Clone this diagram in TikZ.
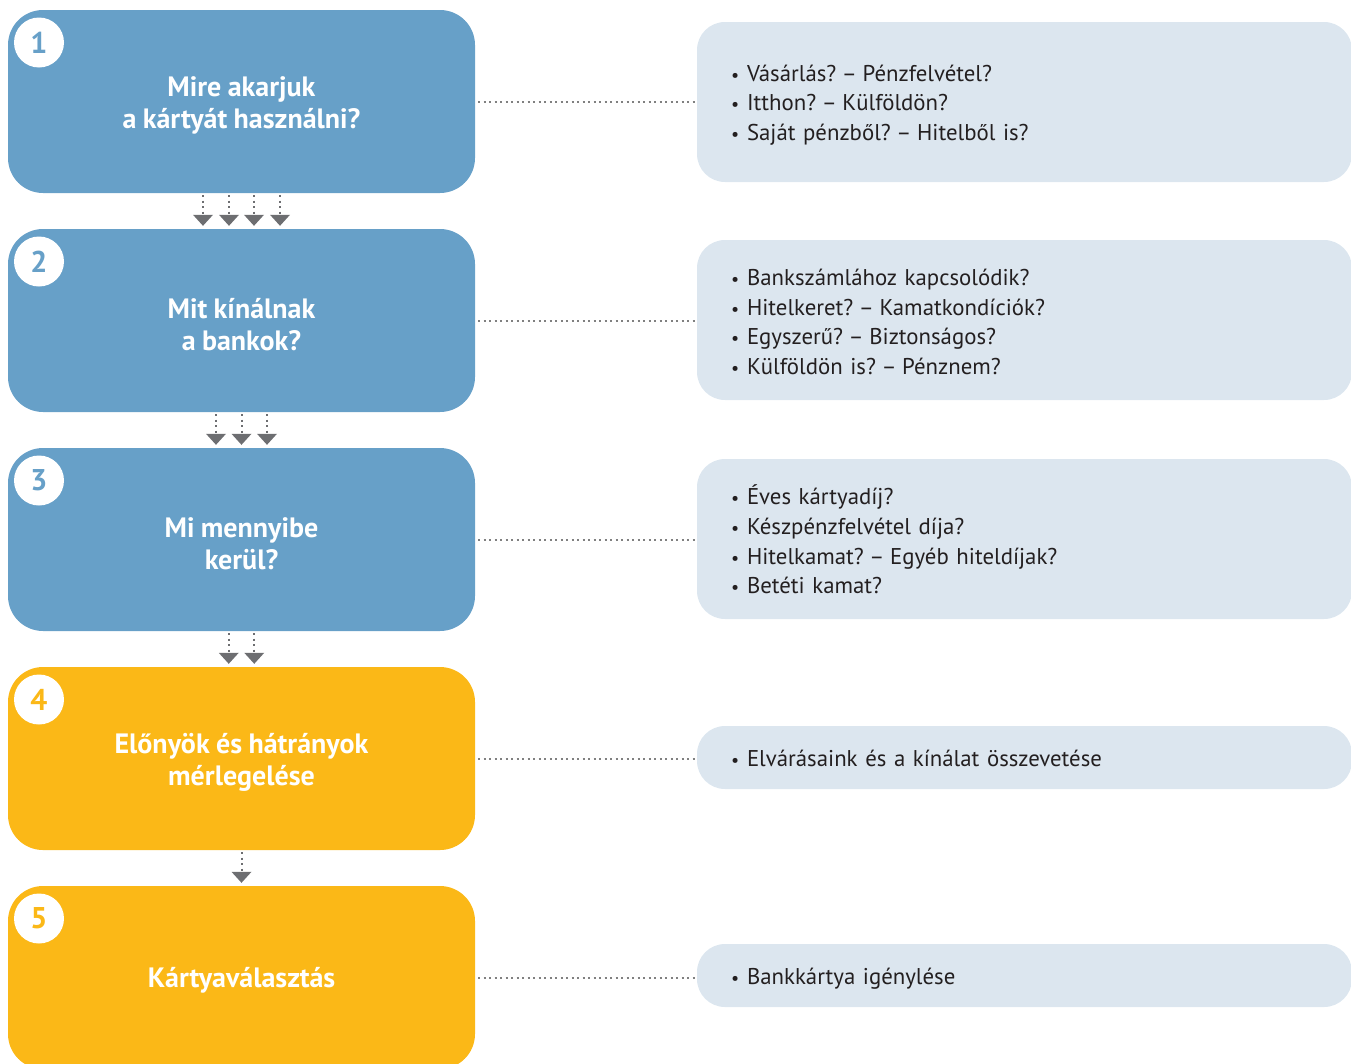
\documentclass[tikz,border=0pt]{standalone}
\usepackage{fontspec}
\setmainfont[WordSpace=0.9]{PT Sans}
\usetikzlibrary{arrows.meta}
\definecolor{stepblue}{HTML}{67A0C8}
\definecolor{steporange}{HTML}{FBB817}
\definecolor{infobg}{HTML}{DCE6EF}
\definecolor{dotgray}{HTML}{808080}
\definecolor{arrowgray}{HTML}{6D6E71}
\definecolor{textblack}{HTML}{231F20}
\tikzset{
 stepbox/.style={rectangle, rounded corners=35pt, minimum width=467pt, minimum height=183pt, inner sep=0pt},
 bluebox/.style={stepbox, fill=stepblue},
 orangebox/.style={stepbox, fill=steporange},
 steptext/.style={text=white, font=\fontsize{28}{32}\selectfont\bfseries, align=center, inner sep=0pt},
 numcircle/.style={circle, fill=white, minimum size=50pt, inner sep=0pt, font=\fontsize{30}{30}\selectfont\bfseries},
 infobox/.style={rectangle, rounded corners=28pt, fill=infobg, minimum width=655pt, inner sep=0pt},
 infotext/.style={inner xsep=35pt, inner ysep=0pt, text width=585pt, align=left, font=\fontsize{22.8}{29.7}\selectfont\frenchspacing, text=textblack},
 conn/.style={dotgray, line width=2pt, dash pattern=on 2pt off 3.5pt, shorten <=3pt},
 flow/.style={arrowgray, line width=2pt, dash pattern=on 2pt off 3.5pt, shorten <=2pt, shorten >=3pt, -{Triangle[width=20pt,length=11pt,line width=0pt]}},
}
\newcommand{\bitem}{\makebox[15pt][l]{\hspace{-1pt}{\fontsize{18}{18}\selectfont•}}}
\newcommand{\qdash}{\kern-2pt–\kern-2pt}
\begin{document}
\begin{tikzpicture}[x=1pt,y=-1pt]
\clip (0,0) rectangle (1351,1063);
% step boxes
\node[bluebox] (s1) at (241.5,101.5) {};
\node[bluebox] (s2) at (241.5,320.5) {};
\node[bluebox] (s3) at (241.5,539.5) {};
\node[orangebox] (s4) at (241.5,758.5) {};
\node[orangebox] (s5) at (241.5,977.5) {};
\node[steptext] (l1) at ([yshift=-4pt]s1.center) {Mire akarjuk\\a kártyát használni?};
\node[steptext] (l2) at ([yshift=-4pt]s2.center) {Mit kínálnak\\a bankok?};
\node[steptext] (l3) at ([yshift=-4pt]s3.center) {Mi mennyibe\\kerül?};
\node[steptext] (l4) at ([yshift=-4pt]s4.center) {Előnyök és hátrányok\\mérlegelése};
\node[steptext] (l5) at ([yshift=-3pt]s5.center) {Kártyaválasztás};
% number circles
\node[numcircle, text=stepblue] (c1) at (39,42.5) {1};
\node[numcircle, text=stepblue] (c2) at (39,261.5) {2};
\node[numcircle, text=stepblue] (c3) at (39,480.5) {3};
\node[numcircle, text=steporange] (c4) at (39,699.5) {4};
\node[numcircle, text=steporange] (c5) at (39,918.5) {5};
% info boxes
\node[infobox, minimum height=160pt] (r1) at (1024.5,102) {};
\node[infobox, minimum height=160pt] (r2) at (1024.5,320) {};
\node[infobox, minimum height=160pt] (r3) at (1024.5,539) {};
\node[infobox, minimum height=63pt] (r4) at (1024.5,757.5) {};
\node[infobox, minimum height=63pt] (r5) at (1024.5,975.5) {};
\node[infotext] (t1) at ([yshift=-3pt]r1.center) {\bitem Vásárlás? \qdash{} Pénzfelvétel?\\ \bitem Itthon? \qdash{} Külföldön?\\ \bitem Saját pénzből? \qdash{} Hitelből is?};
\node[infotext] (t2) at ([yshift=-2pt]r2.center) {\bitem Bankszámlához kapcsolódik?\\ \bitem Hitelkeret? \qdash{} Kamatkondíciók?\\ \bitem Egyszerű? \qdash{} Biztonságos?\\ \bitem Külföldön is? \qdash{} Pénznem?};
\node[infotext] (t3) at ([yshift=-0.5pt]r3.center) {\bitem Éves kártyadíj?\\ \bitem Készpénzfelvétel díja?\\ \bitem Hitelkamat? \qdash{} Egyéb hiteldíjak?\\ \bitem Betéti kamat?};
\node[infotext] (t4) at ([yshift=-1pt]r4.center) {\bitem Elvárásaink és a kínálat összevetése};
\node[infotext] (t5) at ([yshift=-3pt]r5.center) {\bitem Bankkártya igénylése};
% connectors
\foreach \i in {1,...,5} \draw[conn] (s\i.east) -- (s\i.east -| r\i.west);
% flow arrows
\foreach \dx in {-38.5,-12.5,12.5,38.5} \draw[flow] ([xshift=\dx pt]s1.south) -- ([xshift=\dx pt]s2.north);
\foreach \dx in {-25.5,0,25.5} \draw[flow] ([xshift=\dx pt]s2.south) -- ([xshift=\dx pt]s3.north);
\foreach \dx in {-12.75,12.75} \draw[flow] ([xshift=\dx pt]s3.south) -- ([xshift=\dx pt]s4.north);
\draw[flow] (s4.south) -- (s5.north);
\end{tikzpicture}
\end{document}
